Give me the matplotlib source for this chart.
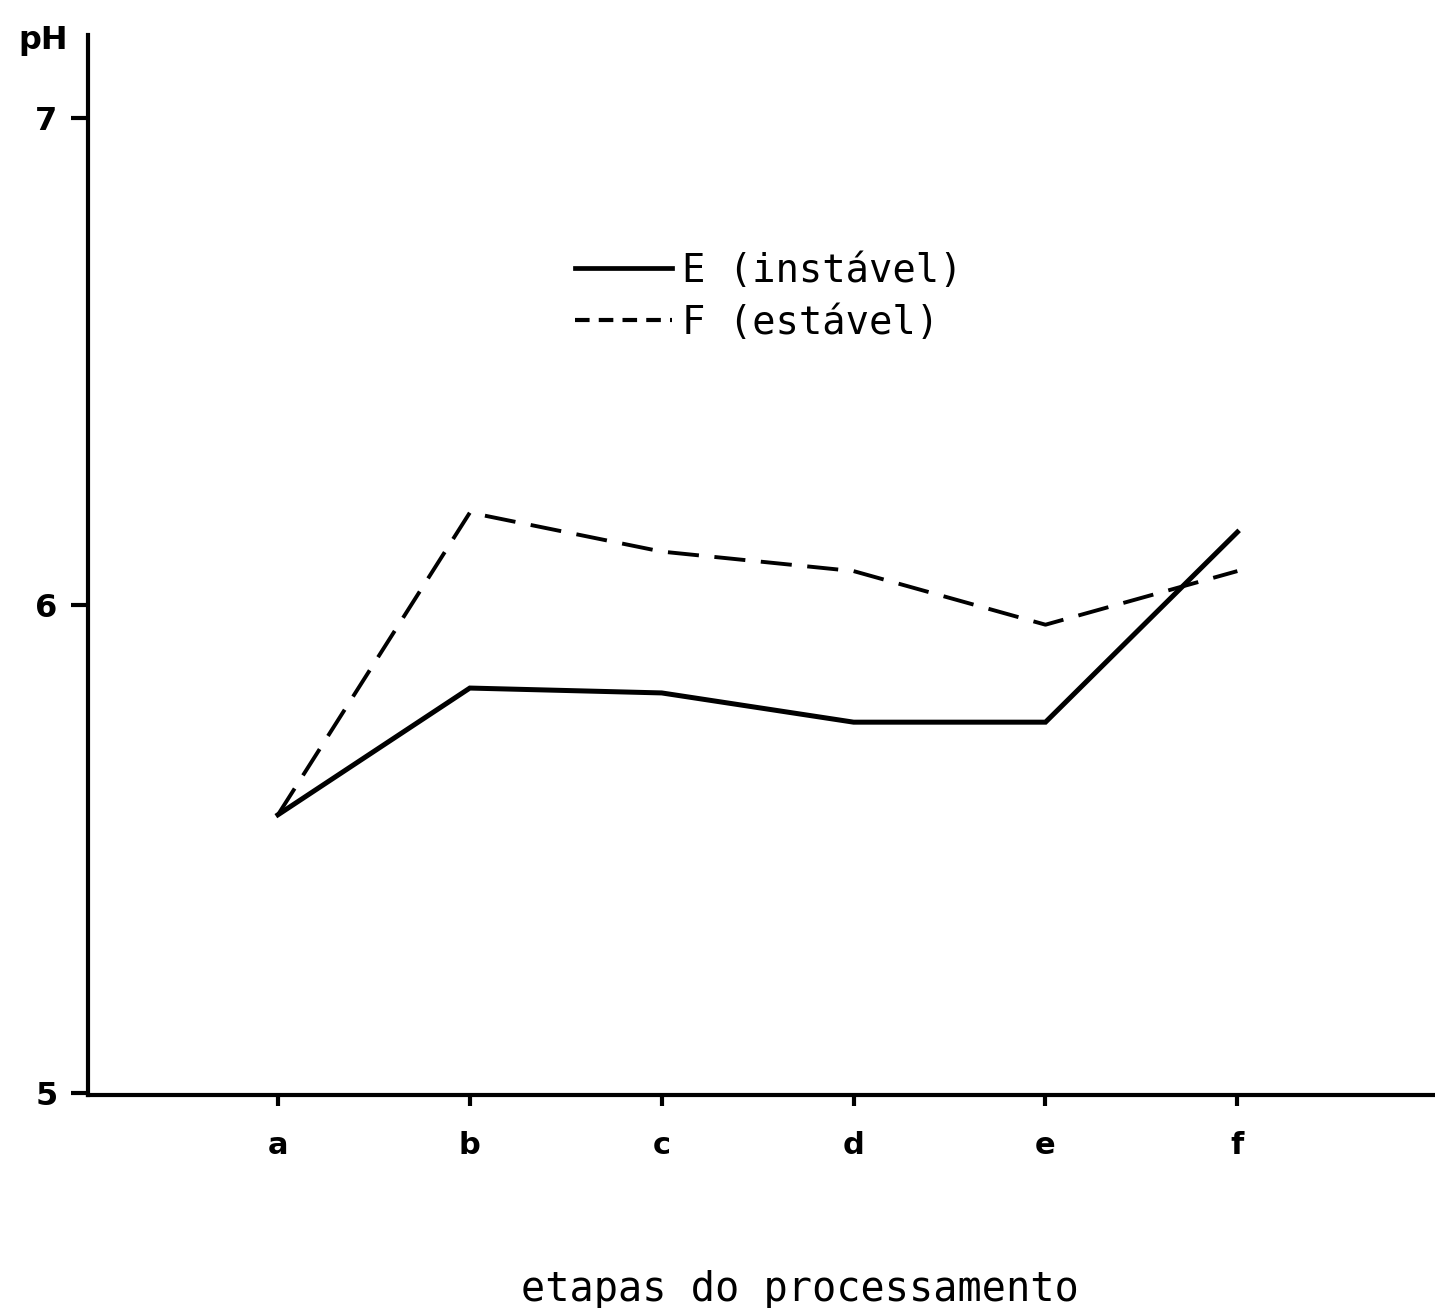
import matplotlib
matplotlib.use("Agg")
import matplotlib.pyplot as plt
from matplotlib.lines import Line2D

# etapas do processamento
etapas = ["a", "b", "c", "d", "e", "f"]
ph_E = [5.57, 5.83, 5.82, 5.76, 5.76, 6.15]   # E (instável)
ph_F = [5.57, 6.19, 6.11, 6.07, 5.96, 6.07]   # F (estável)
yticks = [5, 6, 7]

mono = "DejaVu Sans Mono"

fig = plt.figure(figsize=[14.35, 13.08], dpi=100)
ax = fig.add_axes([88 / 1435, 1 - 1095 / 1308, 1 - 88 / 1435, 1060 / 1308])

x = list(range(len(etapas)))
ax.plot(x, ph_E, color="black", lw=3.6, solid_joinstyle="miter")
ax.plot(x, ph_F, color="black", lw=2.8, dashes=(8, 4))

ax.set_xlim(-0.99, 6.03)
ax.set_ylim(4.995, 7.17)

for side in ["top", "right"]:
    ax.spines[side].set_visible(False)
for side in ["left", "bottom"]:
    ax.spines[side].set_linewidth(3.0)

ax.set_xticks(x)
ax.set_xticklabels(etapas, fontsize=22, fontweight="bold")
ax.set_yticks(yticks)
ax.set_yticklabels([str(v) for v in yticks], fontsize=23, fontweight="bold")
ax.tick_params(axis="y", direction="out", length=12, width=3, pad=10)
ax.tick_params(axis="x", direction="out", length=8, width=3, pad=18)

# legend in the upper middle, no frame
handles = [
    Line2D([], [], color="black", lw=3.4),
    Line2D([], [], color="black", lw=3.0, dashes=(3.5, 2.2)),
]
labels = ["E (instável)", "F (estável)"]
ax.legend(
    handles, labels,
    loc="upper left", bbox_to_anchor=(575 / 1435, 1 - 252 / 1308),
    bbox_transform=fig.transFigure,
    frameon=False, borderpad=0, borderaxespad=0,
    handlelength=2.5, handletextpad=0.25, labelspacing=0.35,
    prop={"family": mono, "size": 28},
)

fig.text(18 / 1435, 1 - 40 / 1308, "pH", fontsize=23, fontweight="bold",
         ha="left", va="center")
fig.text(800 / 1435, 1 - 1290 / 1308, "etapas do processamento",
         fontsize=29, family=mono, ha="center", va="center")

fig.savefig("out.png", dpi=100)
